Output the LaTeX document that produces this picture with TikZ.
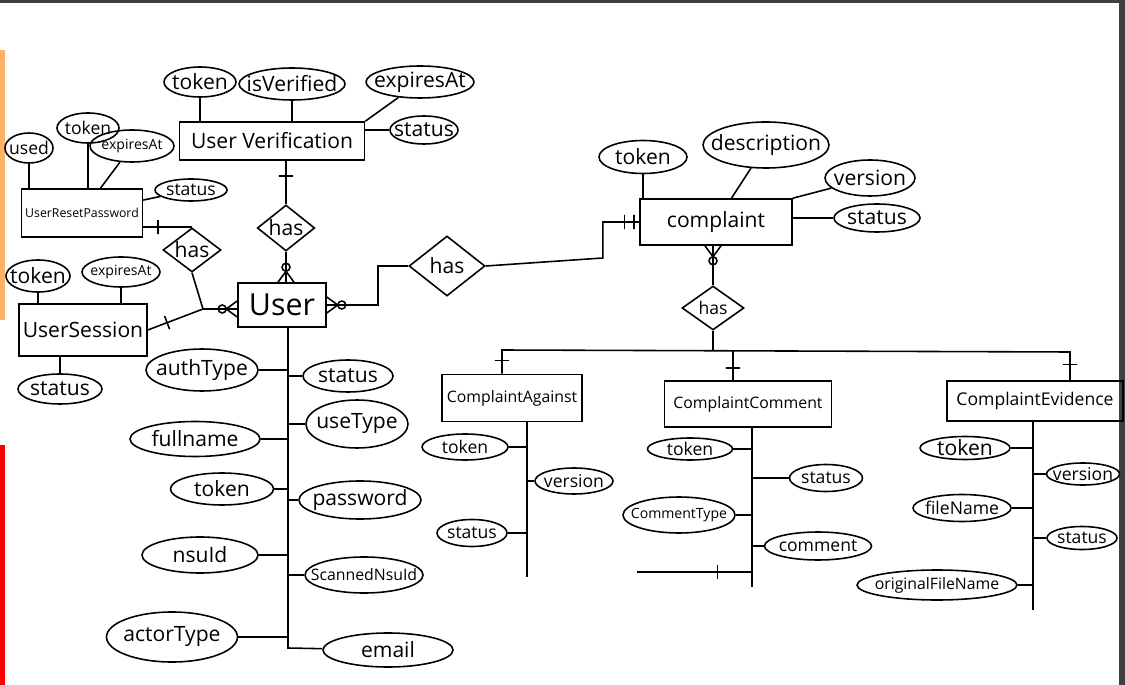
\documentclass[tikz,border=0pt]{standalone}
\usepackage{fontspec}
\setmainfont{Open Sans}
\usetikzlibrary{shapes.geometric}

\tikzset{
  entity/.style={draw, rectangle, inner sep=2pt, font=\large},
  attr/.style={draw, ellipse, inner xsep=-14pt, inner ysep=-8pt, font=\large},
  rel/.style={draw, diamond, aspect=1.4, inner sep=0pt, font=\large},
  wh/.style 2 args={minimum width=#1*0.02cm, minimum height=#2*0.02cm},
  onemark/.style={draw, sloped, inner sep=0pt, minimum width=0pt, minimum height=8pt}
}

\begin{document}
\begin{tikzpicture}[x=0.02cm, y=-0.02cm, line width=0.9pt]
\fill[white] (0,0) rectangle (1125,685);
\fill[black!75] (0,0) rectangle (1125,3);
\fill[black!75] (1119,0) rectangle (1125,685);
\fill[orange!60] (0,50) rectangle (5,320);
\fill[red] (0,445) rectangle (5,685);
\useasboundingbox (0,0) rectangle (1125,685);

% entities
\node[entity, wh={185}{38}] (uv) at (272,141) {User Verification};
\node[entity, wh={117}{48}, font=\scriptsize] (urp) at (82,213) {UserResetPassword};
\node[entity, wh={128}{52}] (us) at (83,330) {UserSession};
\node[entity, wh={88}{44}, font=\LARGE] (user) at (282,305) {User};
\node[entity, wh={152}{46}] (complaint) at (716,222) {complaint};
\node[entity, wh={140}{47}, font=\small] (ca) at (512,398) {ComplaintAgainst};
\node[entity, wh={167}{46}, font=\small] (cc) at (748,404) {ComplaintComment};
\node[entity, wh={176}{40}, font=\normalsize] (ce) at (1035,401) {ComplaintEvidence};

% relations
\node[rel, wh={56}{46}] (hasUV) at (286,228) {has};
\node[rel, wh={58}{44}] (hasSession) at (192,250) {has};
\node[rel, wh={76}{60}] (hasComplaint) at (447,266) {has};
\node[rel, wh={62}{44}, font=\normalsize] (hasDetail) at (713,308) {has};

% attributes of User Verification
\node[attr, wh={72}{30}] (uvToken) at (200,82) {token};
\node[attr, wh={106}{32}] (uvIsVerified) at (292,84) {isVerified};
\node[attr, wh={108}{32}] (uvExpiresAt) at (420,82) {expiresAt};
\node[attr, wh={68}{28}] (uvStatus) at (424,130) {status};

% attributes of UserResetPassword
\node[attr, wh={48}{30}, font=\normalsize] (urpUsed) at (29,148) {used};
\node[attr, wh={62}{30}, font=\normalsize] (urpToken) at (88,128) {token};
\node[attr, wh={84}{32}, font=\footnotesize] (urpExpiresAt) at (132,146) {expiresAt};
\node[attr, wh={72}{22}, font=\normalsize] (urpStatus) at (191,190) {status};

% attributes of UserSession
\node[attr, wh={64}{32}] (usToken) at (38,276) {token};
\node[attr, wh={78}{30}, font=\footnotesize] (usExpiresAt) at (121,272) {expiresAt};
\node[attr, wh={84}{30}] (usStatus) at (60,389) {status};

% attributes of User
\node[attr, wh={112}{42}] (authType) at (202,370) {authType};
\node[attr, wh={90}{32}] (userStatus) at (348,376) {status};
\node[attr, wh={102}{48}] (useType) at (357,424) {useType};
\node[attr, wh={130}{35}] (fullname) at (195,439) {fullname};
\node[attr, wh={103}{32}] (userToken) at (222,489) {token};
\node[attr, wh={122}{38}] (password) at (360,500) {password};
\node[attr, wh={116}{36}] (nsuId) at (200,555) {nsuId};
\node[attr, wh={118}{36}, font=\small] (scannedNsuId) at (364,575) {ScannedNsuId};
\node[attr, wh={131}{50}] (actorType) at (172,637) {actorType};
\node[attr, wh={130}{34}] (email) at (388,650) {email};

% attributes of complaint
\node[attr, wh={88}{33}] (cToken) at (643,157) {token};
\node[attr, wh={126}{46}] (cDescription) at (766,145) {description};
\node[attr, wh={90}{36}] (cVersion) at (870,178) {version};
\node[attr, wh={86}{28}] (cStatus) at (877,218) {status};

% attributes of ComplaintAgainst
\node[attr, wh={86}{26}, font=\normalsize] (caToken) at (465,447) {token};
\node[attr, wh={78}{26}, font=\normalsize] (caVersion) at (574,481) {version};
\node[attr, wh={70}{27}, font=\normalsize] (caStatus) at (472,533) {status};

% attributes of ComplaintComment
\node[attr, wh={85}{22}, font=\normalsize] (ccToken) at (690,449) {token};
\node[attr, wh={73}{27}, font=\normalsize] (ccStatus) at (826,478) {status};
\node[attr, wh={112}{36}, font=\footnotesize] (ccCommentType) at (679,515) {CommentType};
\node[attr, wh={107}{28}, font=\normalsize] (ccComment) at (818,546) {comment};

% attributes of ComplaintEvidence
\node[attr, wh={90}{23}] (ceToken) at (965,448) {token};
\node[attr, wh={73}{22}, font=\normalsize] (ceVersion) at (1083,474) {version};
\node[attr, wh={98}{27}, font=\normalsize] (ceFileName) at (962,508) {fileName};
\node[attr, wh={70}{23}, font=\normalsize] (ceStatus) at (1082,538) {status};
\node[attr, wh={160}{30}, font=\small] (ceOriginalFileName) at (937,585) {originalFileName};

\coordinate (j1) at (203,309);
\coordinate (busL) at (502,350);
\coordinate (busM) at (733,350);
\coordinate (busR) at (1070,352);
\coordinate (userEnd) at (288,648);
\coordinate (caEnd) at (527,577);
\coordinate (ccEnd) at (752,587);
\coordinate (ccLoose) at (637,572);
\coordinate (ceEnd) at (1033,610);

% attribute links
\draw (uvToken) -- (uvToken |- uv.north);
\draw (uvIsVerified) -- (uvIsVerified |- uv.north);
\draw (uvExpiresAt) -- (uv.north east);
\draw (uvStatus) -- (uvStatus -| uv.east);
\draw (urpUsed) -- (urpUsed |- urp.north);
\draw (urpToken) -- (urpToken |- urp.north);
\draw (urpExpiresAt) -- (urp);
\draw (urpStatus) -- (urp);
\draw (usToken) -- (usToken |- us.north);
\draw (usExpiresAt) -- (usExpiresAt |- us.north);
\draw (usStatus) -- (usStatus |- us.south);
\draw (cToken) -- (cToken |- complaint.north);
\draw (cDescription) -- (complaint);
\draw (cVersion) -- (complaint.north east);
\draw (cStatus) -- (cStatus -| complaint.east);

% User spine
\draw (userEnd |- user.south) -- (userEnd) -- (email);
\draw (authType) -- (authType -| userEnd);
\draw (userStatus) -- (userStatus -| userEnd);
\draw (useType) -- (useType -| userEnd);
\draw (fullname) -- (fullname -| userEnd);
\draw (userToken) -- (userToken -| userEnd);
\draw (password) -- (password -| userEnd);
\draw (nsuId) -- (nsuId -| userEnd);
\draw (scannedNsuId) -- (scannedNsuId -| userEnd);
\draw (actorType) -- (actorType -| userEnd);

% detail spines
\draw (caEnd |- ca.south) -- (caEnd);
\draw (caToken) -- (caToken -| caEnd);
\draw (caVersion) -- (caVersion -| caEnd);
\draw (caStatus) -- (caStatus -| caEnd);
\draw (ccEnd |- cc.south) -- (ccEnd);
\draw (ccToken) -- (ccToken -| ccEnd);
\draw (ccStatus) -- (ccStatus -| ccEnd);
\draw (ccCommentType) -- (ccCommentType -| ccEnd);
\draw (ccComment) -- (ccComment -| ccEnd);
\draw (ccLoose) -- node[onemark, pos=0.7]{} (ccLoose -| ccEnd);
\draw (ceEnd |- ce.south) -- (ceEnd);
\draw (ceToken) -- (ceToken -| ceEnd);
\draw (ceVersion) -- (ceVersion -| ceEnd);
\draw (ceFileName) -- (ceFileName -| ceEnd);
\draw (ceStatus) -- (ceStatus -| ceEnd);
\draw (ceOriginalFileName) -- (ceOriginalFileName -| ceEnd);

% relationship links
\draw (uv.south -| hasUV) -- node[onemark, pos=0.35]{} (hasUV.north);
\draw (hasUV.south) -- (hasUV.south |- user.north);
\draw (hasUV.south |- user.north) ++(-8,0) -- ++(8,-11) -- ++(8,11);
\draw (hasUV.south |- user.north) ++(0,-15) circle (4);
\draw (urp.east |- hasSession.north) -- node[onemark, pos=0.3]{} (hasSession.north);
\draw (hasSession.south) -- (j1);
\draw (us.east) -- node[onemark, pos=0.35]{} (j1);
\draw (j1) -- (j1 -| user.west);
\draw (j1 -| user.west) ++(0,-8) -- ++(-11,8) -- ++(11,8);
\draw (j1 -| user.west) ++(-15,0) circle (4);
\draw (user.east) -- ++(51,0) |- (hasComplaint.west);
\draw (user.east) ++(0,-8) -- ++(11,8) -- ++(-11,8);
\draw (user.east) ++(15,0) circle (4);
\draw (hasComplaint.east) -- ++(117,-8) |- node[onemark, pos=0.8]{} node[onemark, pos=0.93]{} (complaint.west);
\draw (complaint.south -| hasDetail) -- (hasDetail.north);
\draw (complaint.south -| hasDetail) ++(-8,0) -- ++(8,11) -- ++(8,-11);
\draw (complaint.south -| hasDetail) ++(0,15) circle (4);
\draw (hasDetail.south) -- (hasDetail.south |- busL);
\draw (busL |- ca.north) -- node[onemark, pos=0.55]{} (busL) -- (busR) -- node[onemark, pos=0.45]{} (busR |- ce.north);
\draw (busM) -- node[onemark, pos=0.6]{} (busM |- cc.north);
\end{tikzpicture}
\end{document}
